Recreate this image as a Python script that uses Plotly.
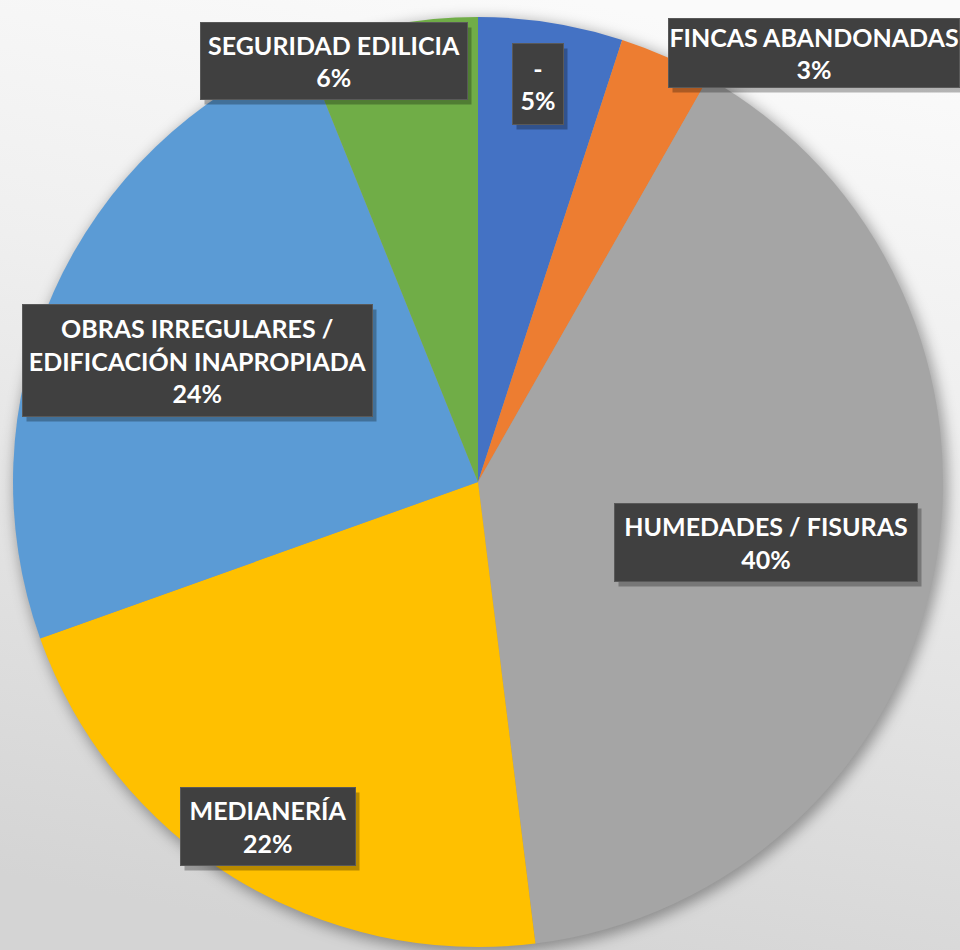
import base64
import plotly.graph_objects as go

# ---- data ----
categories = ["-", "FINCAS ABANDONADAS", "HUMEDADES / FISURAS", "MEDIANERÍA",
              "OBRAS IRREGULARES /<br>EDIFICACIÓN INAPROPIADA", "SEGURIDAD EDILICIA"]
values = [14, 9, 111, 60, 68, 17]
colors = ["#4472C4", "#ED7D31", "#A5A5A5", "#FFC000", "#5B9BD5", "#70AD47"]

# ---- layout constants (pixels) ----
W, H = 960, 950
CX, CY, R = 478, 482, 465
# label box centres and sizes (px)
label_pos = [(538, 84), (814, 53), (766, 542), (268, 826), (197, 360), (334, 61)]
label_size = [(52, 82), (292, 70), (304, 79), (176, 79), (351, 113), (268, 78)]

total = sum(values)
pcts = [round(v / total * 100) for v in values]

# background gradient + pie shadow as an inline SVG image
svg = f'''<svg xmlns="http://www.w3.org/2000/svg" width="{W}" height="{H}" viewBox="0 0 {W} {H}">
<defs>
<linearGradient id="g" x1="0.6" y1="0" x2="0.4" y2="1">
<stop offset="0" stop-color="#FAFAFA"/>
<stop offset="0.35" stop-color="#EFEFEF"/>
<stop offset="1" stop-color="#D4D4D4"/>
</linearGradient>
<filter id="b" x="-20%" y="-20%" width="140%" height="140%"><feGaussianBlur stdDeviation="7"/></filter>
</defs>
<rect width="{W}" height="{H}" fill="url(#g)"/>
<circle cx="{CX+3}" cy="{CY+4}" r="{R+2}" fill="#000" fill-opacity="0.35" filter="url(#b)"/>
</svg>'''
uri = "data:image/svg+xml;base64," + base64.b64encode(svg.encode()).decode()

fig = go.Figure(go.Pie(
    labels=categories,
    values=values,
    sort=False,
    direction="clockwise",
    rotation=0,
    marker=dict(colors=colors, line=dict(width=0)),
    textinfo="none",
    hoverinfo="label+percent",
    showlegend=False,
    domain=dict(x=[(CX - R) / W, (CX + R) / W], y=[1 - (CY + R) / H, 1 - (CY - R) / H]),
))

annotations = []
for cat, p, (lx, ly), (bw, bh) in zip(categories, pcts, label_pos, label_size):
    common = dict(x=lx / W, y=1 - ly / H, xref="paper", yref="paper",
                  xanchor="center", yanchor="middle", showarrow=False,
                  width=bw - 2, height=bh - 2, borderpad=0, borderwidth=1)
    # shadow
    annotations.append(dict(common, text=" ", bgcolor="rgba(0,0,0,0.28)",
                            bordercolor="rgba(0,0,0,0)", xshift=4, yshift=-5))
    annotations.append(dict(common, text=f"{cat}<br>{p}%", bgcolor="#404040",
                            bordercolor="#595959",
                            font=dict(family="Lato", size=25, color="white", weight="bold")))

fig.update_layout(
    width=W, height=H,
    margin=dict(l=0, r=0, t=0, b=0),
    paper_bgcolor="#E6E6E6",
    plot_bgcolor="rgba(0,0,0,0)",
    images=[dict(source=uri, xref="paper", yref="paper", x=0, y=1, sizex=1, sizey=1,
                 xanchor="left", yanchor="top", sizing="stretch", layer="below")],
    annotations=annotations,
)

fig.write_html("out.html", config={"displayModeBar": False},
               post_script="document.body.style.margin='0';document.body.style.overflow='hidden';")
